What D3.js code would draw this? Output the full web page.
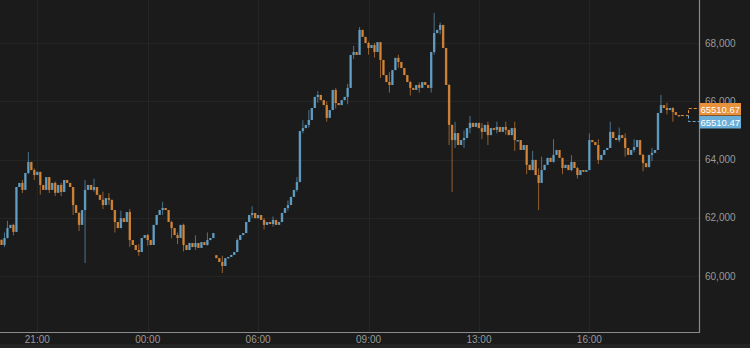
<!DOCTYPE html>
<html>
<head>
<meta charset="utf-8">
<script src="https://cdn.jsdelivr.net/npm/d3@7"></script>
<style>
  html, body { margin: 0; padding: 0; background: #1b1b1b; }
  svg { display: block; }
</style>
</head>
<body>
<div id="chart"></div>
<script>
// closing prices, one per candle (open = previous close unless listed in opensAfterGap)
const closes = [
  61070, 61310, 61650, 61760, 61520, 63060, 63200, 62960, 63540, 63920,
  63640, 63470, 63580, 63130, 62960, 63400, 62960, 63200, 62860, 63130,
  62890, 63300, 63200, 63060, 62440, 62170, 61760, 62270, 62960, 63130,
  62960, 63060, 62790, 62620, 62440, 62680, 62620, 62270, 61860, 61650,
  61990, 61860, 62200, 61240, 61070, 60900, 60830, 61310, 61410, 61240,
  61070, 61760, 62100, 62270, 62340, 62270, 61860, 61650, 61410, 61310,
  61760, 61070, 60900, 61140, 61000, 61140, 60970, 61170, 61070, 61240,
  61310, 61480, 60620, 60490, 60350, 60620, 60660, 60730, 60830, 61240,
  61410, 61480, 61860, 62100, 62170, 61990, 62100, 61930, 61760, 61860,
  61790, 61930, 61760, 61860, 62170, 62340, 62440, 62720, 62960, 63230,
  64980, 65080, 65190, 65360, 65770, 66150, 66220, 66040, 65870, 65430,
  65700, 66390, 65940, 65870, 66040, 66150, 66460, 67590, 67690, 67590,
  68450, 68210, 68000, 67830, 67930, 67690, 68030, 67420, 66900, 66660,
  66560, 67070, 67490, 67350, 67140, 66900, 66660, 66460, 66390, 66560,
  66460, 66660, 66560, 66460, 67690, 68340, 68450, 68620, 67830, 66560,
  65190, 64670, 64910, 64500, 64670, 64740, 65080, 65260, 65120, 65260,
  65080, 64950, 65190, 64840, 65080, 65020, 65120, 64950, 65120, 65020,
  64840, 65080, 64670, 64670, 64330, 64500, 63820, 63640, 63990, 63470,
  63200, 63640, 63820, 64060, 63920, 64160, 64330, 64060, 63710, 63820,
  63640, 63920, 63710, 63470, 63640, 63580, 63640, 64670, 64600, 64500,
  63990, 64160, 64330, 64400, 64950, 64740, 64670, 64840, 64740, 64400,
  64160, 64330, 64430, 64670, 64160, 63880, 63740, 64160, 64230, 64330,
  65600, 65870, 65770, 65700, 65770, 65630, 65530, 65510
];
const firstOpen = 61250;
// candles that open after a data gap: [candle index, open]
const opensAfterGap = [[72, 60720]];

// visible wicks: [candle index, high, low]
const wicks = [
  [1, 61500, 61000], [2, 61900, 61300], [4, 61800, 61400], [7, 63300, 62850],
  [9, 64260, 63500], [11, 63700, 63300], [13, 63300, 62800], [16, 63350, 62850],
  [18, 63250, 62750], [20, 63200, 62750], [24, 62800, 62100], [26, 62200, 61550],
  [28, 63300, 60450], [31, 63350, 62900], [34, 62900, 62300], [36, 62850, 62450],
  [38, 62100, 61500], [40, 62250, 61750], [43, 62300, 61000], [46, 61100, 60700],
  [49, 61450, 61050], [54, 62550, 62100], [57, 61900, 61300], [59, 61500, 61100],
  [61, 61800, 60850], [65, 61400, 60900], [69, 61500, 61050], [74, 60700, 60110],
  [79, 61300, 60900], [84, 62400, 62000], [88, 62000, 61600], [91, 62050, 61700],
  [96, 62600, 62250], [99, 63400, 62900], [101, 65350, 64900], [103, 65700, 65100],
  [106, 66350, 65950], [109, 66000, 65300], [112, 66450, 65750], [116, 66600, 65900],
  [118, 67900, 67450], [120, 68550, 67900], [123, 68050, 67600], [125, 68000, 67500],
  [127, 67700, 66800], [130, 67000, 66300], [133, 67600, 67150], [137, 66700, 66200],
  [140, 66650, 66300], [144, 67700, 66300], [145, 69030, 67600], [147, 68700, 68300],
  [150, 66600, 64500], [151, 65200, 62890], [152, 65300, 64400], [155, 65000, 64400],
  [157, 65500, 64900], [161, 65250, 64700], [163, 65300, 64500], [166, 65300, 64900],
  [169, 65300, 64850], [172, 65300, 64300], [176, 64500, 63500], [178, 64300, 63800],
  [180, 63700, 62270], [181, 64100, 63400], [185, 64700, 63900], [188, 64000, 63500],
  [191, 64150, 63600], [193, 63750, 63350], [197, 64900, 63700], [200, 64700, 63850],
  [204, 65300, 64500], [207, 65100, 64600], [209, 64900, 64100], [212, 64700, 64250],
  [215, 64200, 63600], [218, 64400, 63950], [221, 66220, 65600], [223, 65950, 65550],
  [225, 65800, 65300]
];

const yTicks = [60000, 62000, 64000, 66000, 68000];
const xTickIndex = [12, 49, 86, 123, 160, 197];
const xTickLabels = ["21:00", "00:00", "06:00", "09:00", "13:00", "16:00"];

const askLabel = "65510.67";
const bidLabel = "65510.47";

const width = 750, height = 348;
const plot = { left: 0, right: 699.5, top: 0, bottom: 332.5 };

const orange = "#e8903a", blue = "#6aaed8";

// build OHLC rows
const wickMap = new Map(wicks.map(w => [w[0], w]));
const gapMap = new Map(opensAfterGap);
const data = closes.map((c, i) => {
  const o = i === 0 ? firstOpen : (gapMap.has(i) ? gapMap.get(i) : closes[i - 1]);
  const w = wickMap.get(i);
  return {
    i: i,
    open: o,
    close: c,
    high: w ? Math.max(w[1], o, c) : Math.max(o, c),
    low: w ? Math.min(w[2], o, c) : Math.min(o, c)
  };
});

const svg = d3.select("#chart")
  .append("svg")
  .attr("width", width)
  .attr("height", height)
  .style("background", "#1b1b1b");

// --- SCALES ---
const x = d3.scaleLinear()
  .domain([0, closes.length - 1])
  .range([1.5, 1.5 + (closes.length - 1) * 2.984]);

const y = d3.scaleLinear()
  .domain([60000, 68000])
  .range([276.2, 43]);

// bottom strip
svg.append("rect")
  .attr("x", 0).attr("y", 344)
  .attr("width", width).attr("height", 4)
  .attr("fill", "#242424");

// --- GRID ---
svg.append("g")
  .selectAll("line")
  .data(yTicks)
  .enter()
  .append("line")
  .attr("x1", plot.left).attr("x2", plot.right)
  .attr("y1", d => Math.round(y(d)) + 0.5)
  .attr("y2", d => Math.round(y(d)) + 0.5)
  .attr("stroke", "#252525");

svg.append("g")
  .selectAll("line")
  .data(xTickIndex)
  .enter()
  .append("line")
  .attr("x1", d => Math.round(x(d)) + 0.5)
  .attr("x2", d => Math.round(x(d)) + 0.5)
  .attr("y1", plot.top).attr("y2", plot.bottom)
  .attr("stroke", "#252525");

// --- CANDLES ---
const candles = svg.append("g")
  .selectAll("g")
  .data(data)
  .enter()
  .append("g");

candles.append("line")
  .attr("x1", d => x(d.i)).attr("x2", d => x(d.i))
  .attr("y1", d => y(d.high)).attr("y2", d => y(d.low))
  .attr("stroke", d => d.close >= d.open ? blue : orange)
  .attr("stroke-width", 1)
  .attr("opacity", 0.6);

candles.append("rect")
  .attr("x", d => x(d.i) - 1.2)
  .attr("y", d => y(Math.max(d.open, d.close)))
  .attr("width", 2.4)
  .attr("height", d => Math.max(1.5, Math.abs(y(d.open) - y(d.close))))
  .attr("fill", d => d.close >= d.open ? blue : orange)
  .attr("opacity", 0.8);

// --- FRAME ---
svg.append("path")
  .attr("d", `M${plot.left},${plot.bottom}H${plot.right}V${plot.top}`)
  .attr("fill", "none")
  .attr("stroke", "#8a8a8a")
  .attr("stroke-width", 1.2);

// --- AXES TEXT ---
svg.append("g")
  .selectAll("text")
  .data(yTicks)
  .enter()
  .append("text")
  .attr("x", 705)
  .attr("y", d => y(d))
  .attr("dy", "0.35em")
  .style("font-family", "'Liberation Sans', Arial, sans-serif")
  .style("font-size", "10px")
  .style("fill", "#9a9a9a")
  .text(d => d3.format(",")(d));

svg.append("g")
  .selectAll("text")
  .data(xTickIndex)
  .enter()
  .append("text")
  .attr("x", d => x(d))
  .attr("y", 343)
  .attr("text-anchor", "middle")
  .style("font-family", "'Liberation Sans', Arial, sans-serif")
  .style("font-size", "10px")
  .style("fill", "#9a9a9a")
  .text((d, i) => xTickLabels[i]);

// --- LAST PRICE MARKERS ---
const last = data[data.length - 1];
const lastX = x(last.i) + 2;
const lastY = y(last.close);

svg.append("path")
  .attr("d", `M${lastX},${lastY}H688.5V108.5H699`)
  .attr("fill", "none")
  .attr("stroke", orange)
  .attr("stroke-dasharray", "3,2");

svg.append("path")
  .attr("d", `M688.5,${lastY}V121.5H699`)
  .attr("fill", "none")
  .attr("stroke", blue)
  .attr("stroke-dasharray", "3,2");

const boxes = [
  { label: askLabel, color: orange, top: 103 },
  { label: bidLabel, color: blue, top: 116 }
];

boxes.forEach(b => {
  svg.append("rect")
    .attr("x", 699.5).attr("y", b.top)
    .attr("width", 41.5).attr("height", 12.5)
    .attr("fill", b.color);
  svg.append("text")
    .attr("x", 720.2).attr("y", b.top + 6.5)
    .attr("dy", "0.35em")
    .attr("text-anchor", "middle")
    .style("font-family", "'Liberation Sans', Arial, sans-serif")
    .style("font-size", "9.5px")
    .style("fill", "#ffffff")
    .text(b.label);
});
</script>
</body>
</html>
